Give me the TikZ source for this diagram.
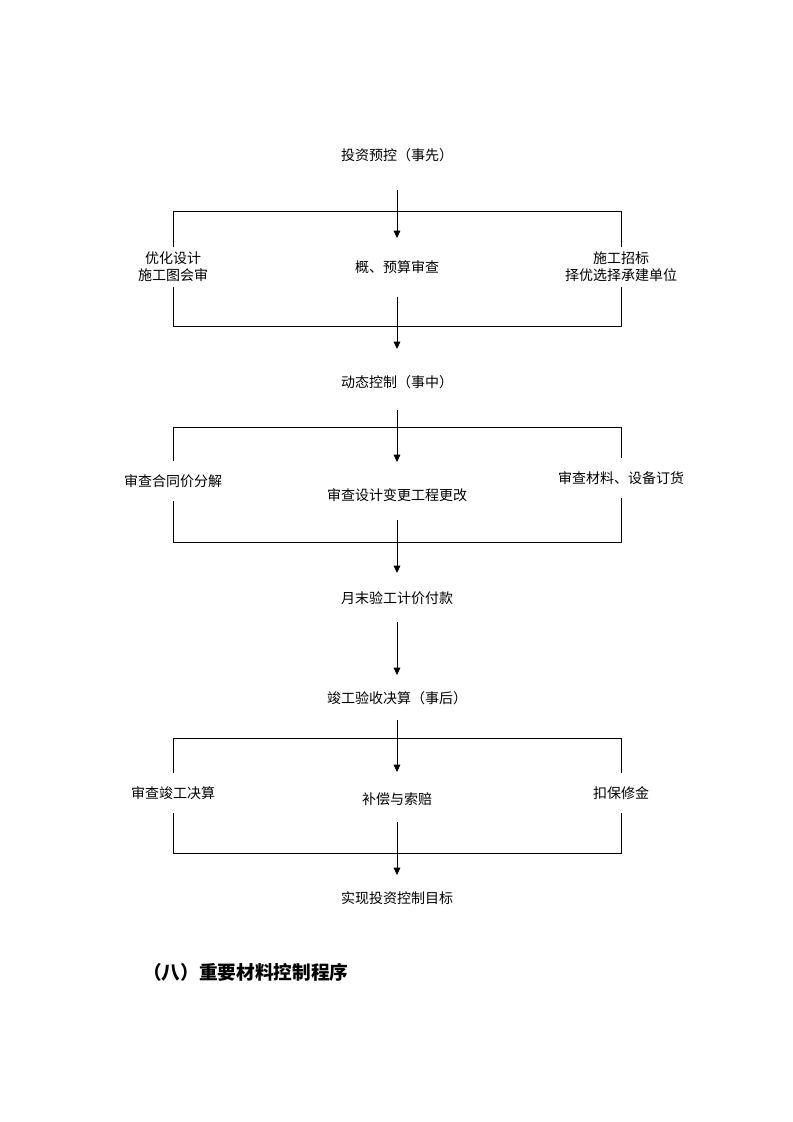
\documentclass[tikz,border=0pt]{standalone}
\usepackage{fontspec}
\newfontfamily\cjk{Noto Sans CJK SC}
\usetikzlibrary{arrows.meta}
\begin{document}
\begin{tikzpicture}[x=0.75pt,y=0.75pt,yscale=-1,xscale=1,
  txt/.style={inner sep=1pt,font=\cjk\fontsize{10.5}{13}\selectfont},
  side/.style={txt,align=center,minimum height=30pt},
  frame/.style={line width=0.6pt},
  flow/.style={line width=0.6pt,-{Triangle[length=5.5pt,width=5pt]}}]
\useasboundingbox (0,0) rectangle (793,1122);
\node (t1) at (397,155) [txt] {投资预控（事先）};
\node (m1) at (397,267) [txt] {概、预算审查};
\node (l1) at (173,267) [side] {优化设计\\施工图会审};
\node (r1) at (621,267) [side] {施工招标\\择优选择承建单位};
\node (t2) at (397,382) [txt] {动态控制（事中）};
\node (m2) at (397,495) [txt] {审查设计变更工程更改};
\node (l2) at (173,481) [side] {审查合同价分解};
\node (r2) at (621,478) [side] {审查材料、设备订货};
\node (t3) at (397,598) [txt] {月末验工计价付款};
\node (t4) at (397,698) [txt] {竣工验收决算（事后）};
\node (m3) at (397,799) [txt] {补偿与索赔};
\node (l3) at (173,793) [side] {审查竣工决算};
\node (r3) at (621,793) [side] {扣保修金};
\node (t5) at (397,898) [txt] {实现投资控制目标};
\node (hd) at (143,972) [anchor=west,inner sep=0pt,font=\cjk\bfseries\fontsize{14}{17}\selectfont] {（八）重要材料控制程序};
\coordinate (b1nw) at (173,211);
\coordinate (b1ne) at (621,211);
\coordinate (b1sw) at (173,326);
\coordinate (b1se) at (621,326);
\coordinate (b2nw) at (173,427);
\coordinate (b2ne) at (621,427);
\coordinate (b2sw) at (173,542);
\coordinate (b2se) at (621,542);
\coordinate (b3nw) at (173,738);
\coordinate (b3ne) at (621,738);
\coordinate (b3sw) at (173,853);
\coordinate (b3se) at (621,853);
\draw [frame] (l1.north) -- (b1nw) -- (b1ne) -- (r1.north);
\draw [frame] (l1.south) -- (b1sw) -- (b1se) -- (r1.south);
\draw [frame] (l2.north) -- (b2nw) -- (b2ne) -- (r2.north);
\draw [frame] (l2.south) -- (b2sw) -- (b2se) -- (r2.south);
\draw [frame] (l3.north) -- (b3nw) -- (b3ne) -- (r3.north);
\draw [frame] (l3.south) -- (b3sw) -- (b3se) -- (r3.south);
\draw [flow,shorten <=26.25pt,shorten >=21.75pt] (t1.center) -- (m1.center);
\draw [flow,shorten <=22.5pt,shorten >=24.75pt] (m1.center) -- (t2.center);
\draw [flow,shorten <=21pt,shorten >=24.75pt] (t2.center) -- (m2.center);
\draw [flow,shorten <=18.75pt,shorten >=18.75pt] (m2.center) -- (t3.center);
\draw [flow,shorten <=18pt,shorten >=17.25pt] (t3.center) -- (t4.center);
\draw [flow,shorten <=16.5pt,shorten >=20.25pt] (t4.center) -- (m3.center);
\draw [flow,shorten <=17.25pt,shorten >=17.25pt] (m3.center) -- (t5.center);
\end{tikzpicture}
\end{document}
